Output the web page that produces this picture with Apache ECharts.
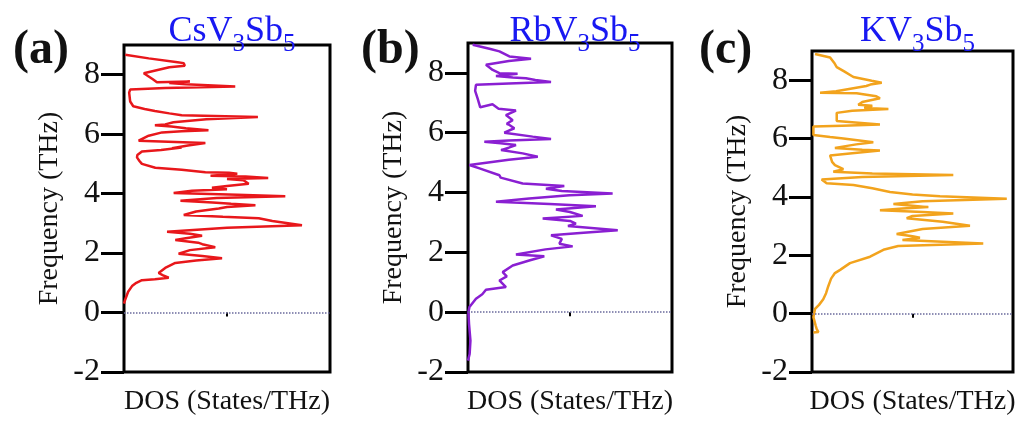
<!DOCTYPE html>
<html>
<head>
<meta charset="utf-8">
<script src="https://cdn.jsdelivr.net/npm/echarts@6/dist/echarts.min.js"></script>
<style>
html,body{margin:0;padding:0;background:#fff;}
#c{width:1019px;height:421px;}
</style>
</head>
<body>
<div id="c"></div>
<script>
// ---- data (frequency in THz, DOS in arbitrary units) ----
const yTicks = [-2, 0, 2, 4, 6, 8];
const panelLabels = ['(a)', '(b)', '(c)'];
const compounds = [['CsV', '3', 'Sb', '5'], ['RbV', '3', 'Sb', '5'], ['KV', '3', 'Sb', '5']];

const csFreq = [8.67,8.55,8.42,8.39,8.3,8.25,8.05,8.0,7.85,7.75,7.77,7.72,7.68,7.6,7.55,7.5,7.4,7.1,6.94,6.85,6.78,6.7,6.64,6.58,6.5,6.4,6.33,6.3,6.24,6.26,6.2,6.13,6.1,6.06,5.95,5.78,5.74,5.7,5.62,5.53,5.55,5.47,5.42,5.3,5.22,5.1,5.0,4.87,4.8,4.72,4.7,4.67,4.6,4.58,4.53,4.49,4.45,4.33,4.26,4.2,4.15,4.1,4.02,3.96,3.91,3.85,3.76,3.7,3.66,3.61,3.55,3.5,3.4,3.28,3.22,3.17,3.08,2.94,2.85,2.72,2.65,2.58,2.5,2.44,2.35,2.3,2.2,2.1,1.98,1.9,1.83,1.75,1.67,1.5,1.33,1.25,1.17,1.12,1.09,1.0,0.89,0.7,0.44,0.3];
const csDos  = [0.06,1.2,2.6,2.9,2.95,2.2,0.96,0.96,1.4,1.6,3.2,2.2,3.0,5.4,2.0,0.3,0.25,0.3,0.45,1.0,1.5,2.2,2.8,6.5,4.0,2.4,2.0,1.5,1.44,2.3,3.0,4.1,2.8,1.85,1.2,0.71,2.5,3.95,3.1,2.33,2.8,1.8,0.87,0.65,0.63,0.75,0.87,1.52,2.8,3.95,5.1,5.5,4.2,5.9,7.0,5.0,5.8,6.05,5.0,4.27,5.0,3.3,2.41,5.5,7.83,4.5,2.74,4.3,5.2,6.38,5.0,4.6,3.5,2.9,4.8,6.54,7.2,8.64,5.0,2.09,3.2,3.79,3.0,2.49,3.6,3.8,4.43,3.2,2.65,3.8,4.76,3.5,2.49,2.0,1.68,1.9,2.17,1.5,0.87,0.6,0.39,0.2,0.06,0.0];

const rbFreq = [8.94,8.8,8.72,8.55,8.47,8.4,8.27,8.1,7.99,7.97,7.9,7.85,7.82,7.76,7.7,7.65,7.6,7.4,7.15,6.85,6.95,6.8,6.74,6.59,6.42,6.3,6.26,6.15,6.0,5.87,5.79,5.74,5.7,5.65,5.59,5.5,5.42,5.31,5.2,5.1,4.92,4.8,4.58,4.5,4.3,4.22,4.13,4.05,3.97,3.91,3.8,3.69,3.62,3.54,3.43,3.35,3.22,3.13,3.05,2.96,2.88,2.74,2.65,2.57,2.45,2.29,2.2,2.1,1.93,1.87,1.73,1.56,1.34,1.2,1.06,0.84,0.75,0.6,0.45,0.17,0.0,-0.39,-0.95,-1.4,-1.62];
const rbDos  = [0.23,1.1,1.54,2.03,3.09,2.0,0.88,1.21,1.54,2.43,1.37,2.2,2.84,3.3,4.07,2.0,0.39,0.35,0.47,0.6,1.2,1.5,2.35,1.86,2.19,1.9,2.03,2.27,1.78,3.17,4.07,2.0,0.8,1.6,2.35,2.0,1.62,2.68,3.42,2.0,0.07,0.6,1.54,1.6,2.68,4.72,3.82,4.6,7.09,4.97,3.0,1.37,4.0,6.27,4.31,5.0,5.62,3.66,5.0,5.29,4.9,7.34,5.5,4.07,4.6,4.48,5.13,3.8,2.35,3.74,3.0,2.19,1.7,1.9,1.54,1.86,0.88,0.7,0.39,0.07,0.02,0.05,0.12,0.08,0.0];

const kFreq = [8.9,8.78,8.6,8.45,8.3,8.11,7.98,7.91,7.85,7.8,7.62,7.57,7.55,7.45,7.38,7.25,7.16,7.12,7.05,7.01,6.95,6.88,6.6,6.48,6.44,6.41,6.12,6.05,6.0,5.87,5.8,5.68,5.62,5.59,5.5,5.42,5.2,5.09,4.95,4.86,4.8,4.75,4.68,4.6,4.47,4.41,4.3,4.17,4.08,4.02,3.94,3.85,3.76,3.7,3.65,3.6,3.54,3.48,3.43,3.35,3.27,3.15,3.01,2.9,2.73,2.65,2.6,2.52,2.4,2.32,2.2,1.95,1.73,1.5,1.39,1.2,0.94,0.7,0.49,0.3,0.16,-0.12,-0.4,-0.52,-0.63,-0.65];
const kDos  = [0.15,0.9,1.1,1.23,1.6,2.06,2.97,3.47,2.9,2.7,1.2,0.4,2.22,3.2,3.38,2.5,2.3,3.0,2.6,3.8,2.0,1.23,1.23,3.38,1.5,0.07,0.07,0.9,1.56,3.05,2.2,1.14,2.5,3.38,2.0,0.9,1.0,1.14,1.56,1.06,3.0,7.03,2.5,0.48,0.73,2.06,3.0,3.88,5.0,6.37,9.69,5.5,4.05,5.0,5.79,4.5,3.38,5.5,7.03,5.0,4.71,6.5,7.86,5.5,4.21,5.0,5.37,4.5,8.52,4.29,3.6,2.89,1.89,1.4,1.14,0.95,0.81,0.7,0.56,0.35,0.15,0.07,0.18,0.23,0.32,0.07];

const lineColors = ['#e8171b', '#8a1fd2', '#f2a31d'];
const panelsFreq = [csFreq, rbFreq, kFreq];
const panelsDos = [csDos, rbDos, kDos];

// ---- layout ----
const grids = [
  {left: 124, top: 45, width: 206, height: 330},
  {left: 468, top: 43, width: 204, height: 330},
  {left: 812, top: 51, width: 201, height: 326}
];
const FONT = 'Liberation Serif';

const chart = echarts.init(document.getElementById('c'), null, {renderer: 'canvas'});

const option = {
  animation: false,
  backgroundColor: '#fff',
  title: [],
  grid: grids.map(g => Object.assign({show: true, borderColor: '#000', borderWidth: 3, backgroundColor: 'transparent'}, g)),
  xAxis: [],
  yAxis: [],
  series: []
};

for (let i = 0; i < 3; i++) {
  const g = grids[i];
  option.xAxis.push({
    type: 'value', gridIndex: i, min: 0, max: 10,
    axisLine: {show: false},
    axisLabel: {show: false},
    splitLine: {show: false},
    axisTick: {show: true, customValues: [5], length: 4, lineStyle: {color: '#000', width: 2}},
    name: 'DOS (States/THz)', nameLocation: 'middle', nameGap: 16,
    nameTextStyle: {fontFamily: FONT, fontSize: 28, color: '#111'}
  });
  option.yAxis.push({
    type: 'value', gridIndex: i, min: -2, max: 9, interval: 2,
    axisLine: {show: false},
    splitLine: {show: false},
    axisTick: {show: true, customValues: yTicks, length: 23, lineStyle: {color: '#000', width: 3}},
    axisLabel: {customValues: yTicks, margin: 24, fontFamily: FONT, fontSize: 32, color: '#111'},
    name: 'Frequency (THz)', nameLocation: 'middle', nameGap: 60, nameRotate: 90,
    nameTextStyle: {fontFamily: FONT, fontSize: 28, color: '#111'}
  });
  const data = panelsFreq[i].map((f, k) => [panelsDos[i][k], f]);
  option.series.push({
    type: 'line', xAxisIndex: i, yAxisIndex: i, data: data,
    showSymbol: false, symbol: 'none', smooth: false,
    lineStyle: {color: lineColors[i], width: 2.5},
    markLine: {
      silent: true, symbol: 'none', label: {show: false},
      lineStyle: {type: 'dotted', color: '#6a6a9c', width: 1.5},
      data: [{yAxis: 0}]
    }
  });
  const c = compounds[i];
  option.title.push({
    text: '{n|' + c[0] + '}{s|' + c[1] + '}{n|' + c[2] + '}{s|' + c[3] + '}',
    left: g.left + g.width / 2, top: 1, textAlign: 'center',
    textStyle: {
      fontWeight: 'normal',
      rich: {
        n: {fontFamily: FONT, fontSize: 36, fontWeight: 'normal', color: '#1818f2'},
        s: {fontFamily: FONT, fontSize: 25, fontWeight: 'normal', color: '#1818f2', padding: [26, 0, 0, 0]}
      }
    }
  });
  option.title.push({
    text: panelLabels[i],
    left: [8, 356, 694][i], top: 22,
    textStyle: {fontFamily: FONT, fontSize: 48, fontWeight: 'bold', color: '#111'}
  });
}

chart.setOption(option);
</script>
</body>
</html>
